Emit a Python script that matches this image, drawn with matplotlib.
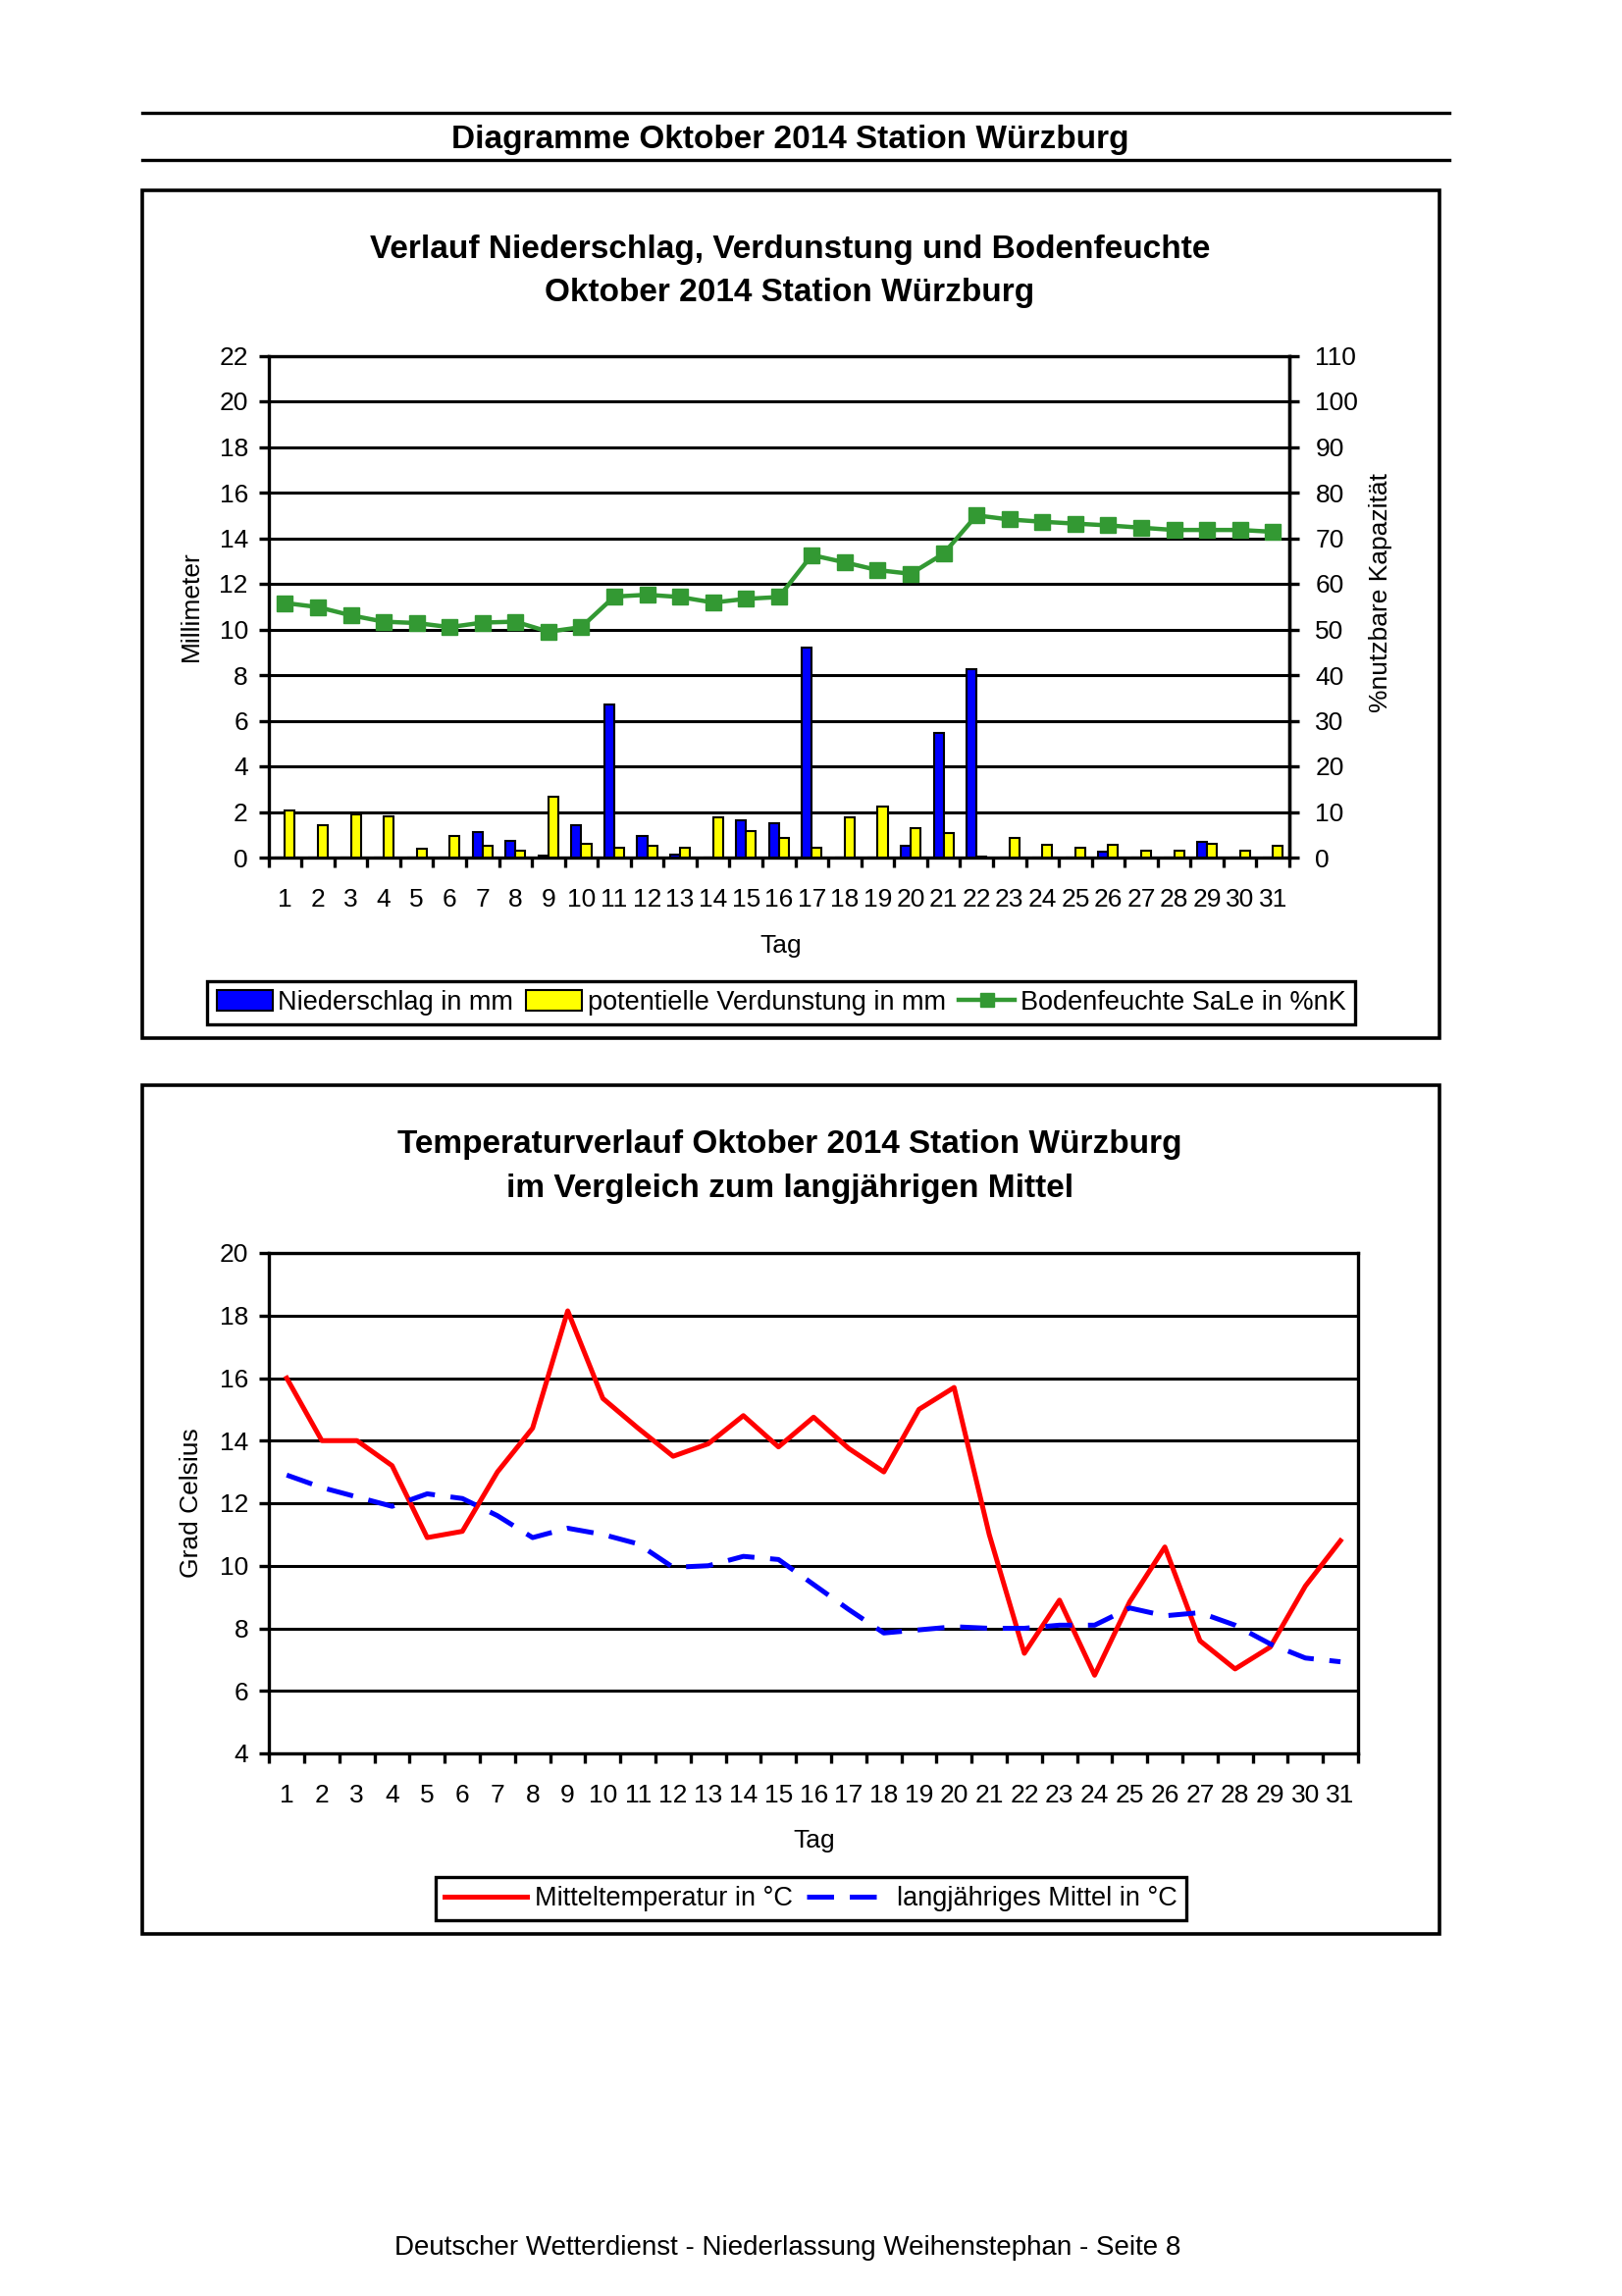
import numpy as np
import matplotlib
matplotlib.use("Agg")
import matplotlib.pyplot as plt
from matplotlib.lines import Line2D
from matplotlib.patches import Rectangle, Patch

plt.rcParams['font.family'] = ['Liberation Sans', 'DejaVu Sans']

# Daten Oktober 2014, Station Wuerzburg
days = list(range(1, 32))
niederschlag = [0, 0, 0, 0, 0, 0, 1.1, 0.75, 0.08, 1.4, 6.7, 0.95, 0.15, 0, 1.65, 1.5,
                9.2, 0, 0, 0.5, 5.45, 8.25, 0.02, 0, 0.02, 0.25, 0, 0, 0.7, 0, 0]
verdunstung = [2.05, 1.4, 1.9, 1.8, 0.4, 0.95, 0.5, 0.3, 2.65, 0.6, 0.45, 0.5, 0.45, 1.75,
               1.15, 0.85, 0.45, 1.75, 2.25, 1.27, 1.07, 0.05, 0.85, 0.55, 0.45, 0.55, 0.3,
               0.3, 0.6, 0.3, 0.5]
bodenfeuchte = [55.8, 54.9, 53.1, 51.7, 51.4, 50.5, 51.5, 51.7, 49.5, 50.5, 57.2, 57.6,
                57.1, 55.9, 56.7, 57.1, 66.3, 64.7, 63.0, 62.2, 66.6, 75.0, 74.1, 73.6,
                73.2, 72.8, 72.3, 71.8, 71.8, 71.8, 71.4]
temp = [16.0, 14.0, 14.0, 13.2, 10.9, 11.1, 13.0, 14.4, 18.15, 15.35, 14.4, 13.5, 13.9,
        14.8, 13.8, 14.75, 13.75, 13.0, 15.0, 15.7, 11.0, 7.2, 8.9, 6.5, 8.85, 10.6, 7.6,
        6.7, 7.4, 9.35, 10.8]
mittel = [12.9, 12.5, 12.2, 11.9, 12.3, 12.15, 11.6, 10.9, 11.2, 11.0, 10.7, 9.95, 10.0,
          10.3, 10.2, 9.4, 8.6, 7.85, 7.95, 8.05, 8.0, 8.0, 8.1, 8.1, 8.65, 8.4, 8.5, 8.1,
          7.5, 7.05, 6.93]

W, H = 1653, 2340
FS = 19
TFS = 24  # Titel
fig = plt.figure(figsize=(W / 100, H / 100), dpi=100)


def rect(x0, y0, x1, y1):
    # pixel box -> figure coords
    return [x0 / W, 1 - y1 / H, (x1 - x0) / W, (y1 - y0) / H]


def hline(y, x0=145, x1=1477):
    fig.add_artist(Line2D([x0 / W, x1 / W], [1 - y / H] * 2, transform=fig.transFigure,
                          color='black', lw=2.4))


def box(x0, y0, x1, y1):
    fig.add_artist(Rectangle((x0 / W, 1 - y1 / H), (x1 - x0) / W, (y1 - y0) / H,
                             transform=fig.transFigure, fill=False, ec='black', lw=2.6))


def ftext(x, y, s, **kw):
    kw.setdefault('fontsize', FS)
    fig.text(x / W, 1 - y / H, s, ha='center', va='center', **kw)


def style_axes(ax):
    for sp in ax.spines.values():
        sp.set_linewidth(2.4)
    ax.set_xlim(0.5, 31.5)
    ax.set_xticks(days)
    ax.set_xticks(np.arange(0.5, 32, 1), minor=True)
    ax.tick_params(axis='x', which='major', length=0, pad=22, labelsize=FS)
    ax.tick_params(axis='x', which='minor', length=7, width=2.4, direction='out')
    ax.tick_params(axis='y', length=7, width=2.4, direction='out', pad=8, labelsize=FS)
    ax.yaxis.grid(True, color='black', lw=2.2)
    ax.set_axisbelow(True)


# Kopf
hline(115)
hline(163)
ftext(805, 142, 'Diagramme Oktober 2014 Station Würzburg', fontweight='bold', fontsize=TFS)

# ---------------- Diagramm 1 ----------------
box(145, 194, 1467, 1058)
ftext(805, 254, 'Verlauf Niederschlag, Verdunstung und Bodenfeuchte', fontweight='bold', fontsize=TFS)
ftext(805, 298, 'Oktober 2014 Station Würzburg', fontweight='bold', fontsize=TFS)

ax1 = fig.add_axes(rect(273.6, 362.5, 1314, 874))
x = np.array(days)
ax1.bar(x - 0.15, niederschlag, width=0.3, color='#0000ff', edgecolor='black', lw=1.5, zorder=3)
ax1.bar(x + 0.15, verdunstung, width=0.3, color='#ffff00', edgecolor='black', lw=1.5, zorder=3)
ax1.set_ylim(0, 22)
ax1.set_yticks(range(0, 23, 2))
style_axes(ax1)

ax2 = ax1.twinx()
ax2.plot(x, bodenfeuchte, color='#339933', lw=3.2, marker='s', ms=11)
ax2.set_ylim(0, 110)
ax2.set_yticks(range(0, 111, 10))
ax2.spines['right'].set_linewidth(2.4)
ax2.tick_params(axis='y', length=7, width=2.4, direction='out', pad=12, labelsize=FS)

ftext(195, 618, 'Millimeter', rotation=90)
ftext(1407, 604, '%nutzbare Kapazität', rotation=90)
ftext(796, 964, 'Tag')

h1 = [Patch(fc='#0000ff', ec='black', lw=1.5),
      Patch(fc='#ffff00', ec='black', lw=1.5),
      Line2D([], [], color='#339933', lw=3.2, marker='s', ms=10)]
leg1 = fig.legend(h1, ['Niederschlag in mm', 'potentielle Verdunstung in mm',
                       'Bodenfeuchte SaLe in %nK'],
                  loc='center', bbox_to_anchor=(796 / W, 1 - 1022 / H), ncol=3,
                  fancybox=False, edgecolor='black', fontsize=19.5, handlelength=2.1,
                  handleheight=0.8, columnspacing=0.5, handletextpad=0.2, borderpad=0.35,
                  framealpha=1)
leg1.get_frame().set_linewidth(2.4)

# ---------------- Diagramm 2 ----------------
box(145, 1106, 1467, 1971)
ftext(805, 1167, 'Temperaturverlauf Oktober 2014 Station Würzburg', fontweight='bold', fontsize=TFS)
ftext(805, 1211, 'im Vergleich zum langjährigen Mittel', fontweight='bold', fontsize=TFS)

ax3 = fig.add_axes(rect(274.3, 1277, 1384, 1787))
ax3.plot(x, temp, color='#ff0000', lw=3.6, zorder=3)
ax3.plot(x, mittel, color='#0000ff', lw=3.6, dashes=(5.5, 3.2), zorder=3)
ax3.set_ylim(4, 20)
ax3.set_yticks(range(4, 21, 2))
style_axes(ax3)

ftext(195, 1532, 'Grad Celsius', rotation=90)
ftext(830, 1876, 'Tag')

h2 = [Line2D([], [], color='#ff0000', lw=3.6),
      Line2D([], [], color='#0000ff', lw=3.6, dashes=(5.5, 3.2))]
leg2 = fig.legend(h2, ['Mitteltemperatur in °C', 'langjähriges Mittel in °C'],
                  loc='center', bbox_to_anchor=(826.5 / W, 1 - 1935 / H), ncol=2,
                  fancybox=False, edgecolor='black', fontsize=19.5, handlelength=3.1,
                  columnspacing=0.5, handletextpad=0.3, borderpad=0.35, framealpha=1)
leg2.get_frame().set_linewidth(2.4)

ftext(803, 2291, 'Deutscher Wetterdienst - Niederlassung Weihenstephan - Seite 8', fontsize=20)

fig.savefig('out.png', dpi=100)
